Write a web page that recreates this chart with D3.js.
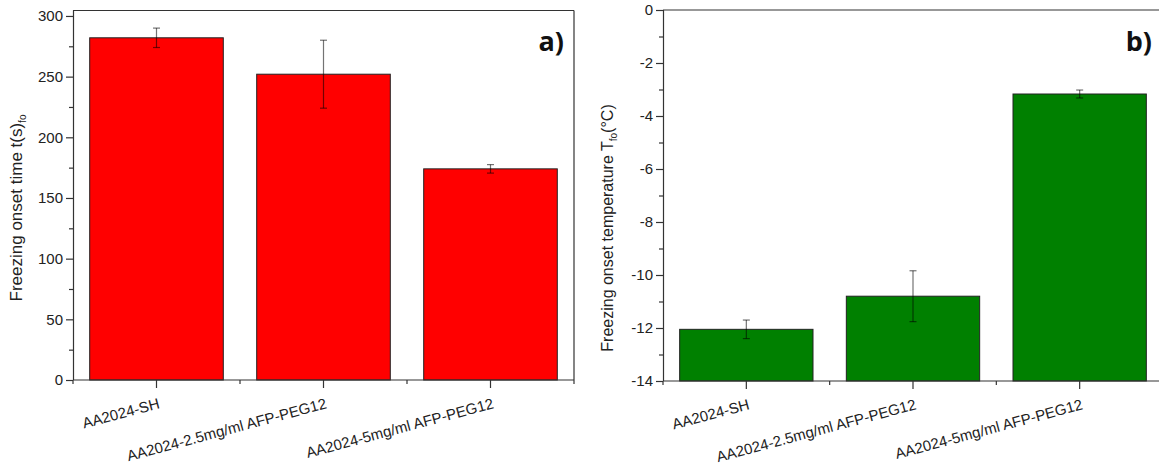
<!DOCTYPE html>
<html>
<head>
<meta charset="utf-8">
<script src="https://cdn.jsdelivr.net/npm/d3@7"></script>
<style>
  body { margin: 0; background: #fff; }
  svg { display: block; }
  .axis path, .axis line { stroke: #333; stroke-width: 1.2; }
  .axis text { font-family: "Liberation Sans", Arial, sans-serif; font-size: 15px; fill: #222; }
</style>
</head>
<body>
<div id="chart"></div>
<script>
// data
var categories = ["AA2024-SH", "AA2024-2.5mg/ml AFP-PEG12", "AA2024-5mg/ml AFP-PEG12"];
var onsetTime = [282, 252, 174];
var onsetTimeErr = [8, 28, 3.5];
var onsetTemp = [-12.05, -10.8, -3.17];
var onsetTempErr = [0.35, 0.96, 0.15];
var timeTicks = [0, 50, 100, 150, 200, 250, 300];
var tempTicks = [0, -2, -4, -6, -8, -10, -12, -14];

var W = 1159, H = 465;

var svg = d3.select("#chart").append("svg")
    .attr("width", W)
    .attr("height", H);

function panel(opt) {
    var g = svg.append("g");

    var x = d3.scaleBand()
        .domain(categories)
        .range([opt.left, opt.right])
        .paddingInner(0.2)
        .paddingOuter(0.1);

    var y = d3.scaleLinear()
        .domain(opt.domain)
        .range([opt.bottom, opt.top]);

    // bars
    g.selectAll("rect.bar")
        .data(opt.values)
        .enter().append("rect")
        .attr("class", "bar")
        .attr("x", function(d, i) { return x(categories[i]); })
        .attr("width", x.bandwidth())
        .attr("y", function(d) { return y(d); })
        .attr("height", function(d) { return y(opt.domain[0]) - y(d); })
        .attr("fill", opt.color)
        .attr("stroke", "#222")
        .attr("stroke-width", 1);

    // error bars
    var eb = g.selectAll("g.err")
        .data(opt.values)
        .enter().append("g")
        .attr("class", "err")
        .attr("stroke", "#000")
        .attr("stroke-opacity", 0.55)
        .attr("stroke-width", 1.2);
    var cx = function(i) { return x(categories[i]) + x.bandwidth() / 2; };
    eb.append("line")
        .attr("x1", function(d, i) { return cx(i); })
        .attr("x2", function(d, i) { return cx(i); })
        .attr("y1", function(d, i) { return y(d + opt.errs[i]); })
        .attr("y2", function(d, i) { return y(d - opt.errs[i]); });
    [1, -1].forEach(function(s) {
        eb.append("line")
            .attr("x1", function(d, i) { return cx(i) - 3.5; })
            .attr("x2", function(d, i) { return cx(i) + 3.5; })
            .attr("y1", function(d, i) { return y(d + s * opt.errs[i]); })
            .attr("y2", function(d, i) { return y(d + s * opt.errs[i]); });
    });

    // frame
    g.append("line")
        .attr("x1", opt.left).attr("x2", opt.right)
        .attr("y1", opt.top).attr("y2", opt.top)
        .attr("stroke", "#333").attr("stroke-width", 1.2);
    g.append("line")
        .attr("x1", opt.right).attr("x2", opt.right)
        .attr("y1", opt.top).attr("y2", opt.bottom)
        .attr("stroke", "#333").attr("stroke-width", 1.2);

    // y axis - minor then major
    var minor = [];
    for (var k = 0; k < opt.ticks.length - 1; k++) {
        minor.push((opt.ticks[k] + opt.ticks[k + 1]) / 2);
    }
    g.append("g")
        .attr("class", "axis")
        .attr("transform", "translate(" + opt.left + ",0)")
        .call(d3.axisLeft(y).tickValues(minor).tickSize(4).tickFormat(""))
        .select(".domain").remove();
    g.append("g")
        .attr("class", "axis")
        .attr("transform", "translate(" + opt.left + ",0)")
        .call(d3.axisLeft(y).tickValues(opt.ticks).tickSize(7).tickSizeOuter(0).tickPadding(3)
            .tickFormat(function(d) { return String(d); }))
        .select(".domain").attr("d", "M0.5," + opt.top + "V" + opt.bottom);

    // x axis
    var xa = g.append("g")
        .attr("class", "axis")
        .attr("transform", "translate(0," + opt.bottom + ")");
    xa.append("line")
        .attr("x1", opt.left).attr("x2", opt.right);
    var step = x.step();
    d3.range(categories.length + 1).forEach(function(i) {
        xa.append("line")
            .attr("x1", opt.left + i * step).attr("x2", opt.left + i * step)
            .attr("y1", 0).attr("y2", 4);
    });
    xa.selectAll("line.major")
        .data(categories)
        .enter().append("line")
        .attr("class", "major")
        .attr("x1", function(d) { return x(d) + x.bandwidth() / 2; })
        .attr("x2", function(d) { return x(d) + x.bandwidth() / 2; })
        .attr("y1", 0).attr("y2", 8);
    xa.selectAll("text")
        .data(categories)
        .enter().append("text")
        .attr("text-anchor", "end")
        .attr("transform", function(d) {
            return "translate(" + (x(d) + x.bandwidth() / 2 + 4) + ",28) rotate(-15)";
        })
        .text(function(d) { return d; });

    // axis title
    var t = g.append("text")
        .attr("transform", "translate(" + opt.titleX + "," + opt.titleY + ") rotate(-90)")
        .attr("text-anchor", "middle")
        .attr("font-family", "'Liberation Sans', Arial, sans-serif")
        .attr("font-size", opt.titleSize)
        .attr("fill", "#222");
    t.append("tspan").text(opt.title[0]);
    t.append("tspan").attr("dy", 4).attr("font-size", 10).text("fo");
    t.append("tspan").attr("dy", -4).text(opt.title[1]);

    // panel letter
    g.append("text")
        .attr("x", opt.labelX)
        .attr("y", 51)
        .attr("text-anchor", "end")
        .attr("font-family", "'Open Sans', sans-serif")
        .attr("font-weight", "bold")
        .attr("font-size", 27)
        .attr("fill", "#111")
        .text(opt.label);
}

panel({
    left: 73, right: 574, top: 10.5, bottom: 380,
    domain: [0, 304.5], ticks: timeTicks,
    values: onsetTime, errs: onsetTimeErr, color: "#ff0000",
    title: ["Freezing onset time t(s)", ""], titleX: 22, titleY: 208, titleSize: 17,
    label: "a)", labelX: 564
});

panel({
    left: 663, right: 1163, top: 10, bottom: 381,
    domain: [-14, 0], ticks: tempTicks,
    values: onsetTemp, errs: onsetTempErr, color: "#008000",
    title: ["Freezing onset temperature T", "(°C)"], titleX: 613, titleY: 228, titleSize: 16,
    label: "b)", labelX: 1152
});
</script>
</body>
</html>
